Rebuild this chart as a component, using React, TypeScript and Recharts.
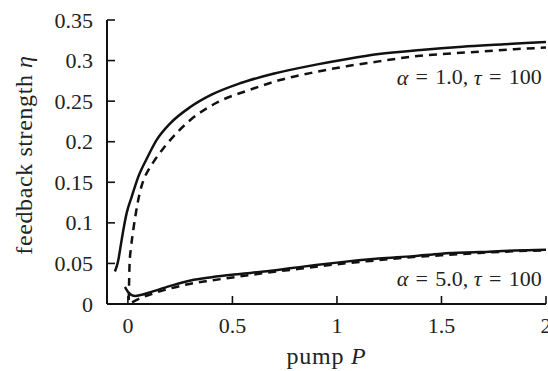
import React from "react";
import {
	LineChart,
	Line,
	XAxis,
	YAxis,
	ReferenceDot,
} from "recharts";

// upper pair, alpha = 1.0
const pumpA1Solid = [-0.062, -0.046, -0.035, -0.022, -0.006, 0.018, 0.05, 0.09, 0.137, 0.2, 0.3, 0.4, 0.536, 0.7, 0.9, 1.05, 1.2, 1.4, 1.6, 1.8, 2.0];
const etaA1Solid = [0.04, 0.054, 0.071, 0.091, 0.112, 0.132, 0.157, 0.179, 0.202, 0.222, 0.243, 0.258, 0.272, 0.284, 0.295, 0.302, 0.308, 0.313, 0.317, 0.32, 0.323];
const pumpA1Dashed = [0.004, 0.006, 0.008, 0.015, 0.025, 0.04, 0.055, 0.075, 0.1, 0.13, 0.17, 0.216, 0.3, 0.424, 0.584, 0.727, 0.9, 1.046, 1.2, 1.365, 1.5, 1.684, 1.85, 2.0];
const etaA1Dashed = [0.005, 0.03, 0.05, 0.07, 0.09, 0.115, 0.135, 0.153, 0.166, 0.178, 0.192, 0.206, 0.227, 0.248, 0.264, 0.276, 0.286, 0.293, 0.299, 0.305, 0.308, 0.311, 0.314, 0.316];

// lower pair, alpha = 5.0
const pumpA5Solid = [-0.014, 0.0, 0.018, 0.035, 0.06, 0.1, 0.2, 0.3, 0.4, 0.536, 0.65, 0.775, 0.9, 1.0, 1.2, 1.365, 1.5, 1.684, 1.85, 2.0];
const etaA5Solid = [0.021, 0.015, 0.011, 0.01, 0.011, 0.014, 0.022, 0.029, 0.033, 0.037, 0.04, 0.044, 0.048, 0.051, 0.056, 0.059, 0.062, 0.064, 0.066, 0.067];
const pumpA5Dashed = [0.02, 0.05, 0.12, 0.2, 0.3, 0.4, 0.536, 0.65, 0.775, 0.9, 1.0, 1.2, 1.365, 1.5, 1.684, 1.85, 2.0];
const etaA5Dashed = [0.002, 0.006, 0.013, 0.019, 0.025, 0.029, 0.034, 0.038, 0.042, 0.046, 0.049, 0.054, 0.058, 0.06, 0.063, 0.065, 0.066];

const xTicks = [0, 0.5, 1, 1.5, 2];
const yTicks = [0, 0.05, 0.1, 0.15, 0.2, 0.25, 0.3, 0.35];

const zip = (xs: number[], ys: number[]) => xs.map((p, i) => ({ p, eta: ys[i] }));

const INK = "#111";
const TEXT = "#222";
const FONT = "'Liberation Serif', serif";
const TICK_LEN = 8;
const SP = "\u2004"; // a bit wider than a normal space, like TeX's relation spacing

const LeftTick = ({ x, y, payload }: any) => (
	<g>
		<line x1={x} x2={x + TICK_LEN} y1={y} y2={y} stroke={INK} strokeWidth={1.6} />
		<text x={x - 14} y={y} textAnchor="end" dominantBaseline="central" fontSize={22} fontFamily={FONT} fill={TEXT}>
			{payload.value}
		</text>
	</g>
);

const RightTick = ({ x, y }: any) => (
	<line x1={x} x2={x - TICK_LEN} y1={y} y2={y} stroke={INK} strokeWidth={1.6} />
);

const BottomTick = ({ x, y, payload }: any) => (
	<g>
		<line x1={x} x2={x} y1={y} y2={y - TICK_LEN} stroke={INK} strokeWidth={1.6} />
		<text x={x} y={y + 21} textAnchor="middle" dominantBaseline="central" fontSize={22} fontFamily={FONT} fill={TEXT}>
			{payload.value}
		</text>
	</g>
);

const TopTick = ({ x, y }: any) => (
	<line x1={x} x2={x} y1={y} y2={y + TICK_LEN} stroke={INK} strokeWidth={1.6} />
);

const CurveLabel = ({ viewBox, alpha }: any) => (
	<text x={viewBox.x} y={viewBox.y} textAnchor="end" dominantBaseline="central" fontSize={22} fontFamily={FONT} fill={TEXT}>
		<tspan fontStyle="italic">α</tspan>
		{`${SP}=${SP}${alpha}, `}
		<tspan fontStyle="italic">τ</tspan>
		{`${SP}=${SP}100`}
	</text>
);

const YTitle = ({ viewBox }: any) => {
	const cx = viewBox.x + 24;
	const cy = viewBox.y + viewBox.height / 2 - 7;
	return (
		<text x={cx} y={cy} transform={`rotate(-90 ${cx} ${cy})`} textAnchor="middle" dominantBaseline="central" fontSize={24} letterSpacing={0.6} fontFamily={FONT} fill={TEXT}>
			feedback strength <tspan fontStyle="italic">η</tspan>
		</text>
	);
};

const XTitle = ({ viewBox }: any) => {
	const cx = viewBox.x + viewBox.width / 2;
	const cy = viewBox.y + 52;
	return (
		<text x={cx} y={cy} textAnchor="middle" dominantBaseline="central" fontSize={24} letterSpacing={0.8} fontFamily={FONT} fill={TEXT}>
			pump <tspan fontStyle="italic">P</tspan>
		</text>
	);
};

export default function App() {
	return (
		<div style={{ position: "absolute", left: 0, top: 0, background: "#fff" }}>
			<LineChart width={548} height={371} margin={{ top: 20, right: 2, left: 0, bottom: 0 }}>
				<XAxis
					dataKey="p"
					type="number"
					domain={[-0.1, 2]}
					allowDataOverflow
					ticks={xTicks}
					interval={0}
					height={67}
					tickSize={0}
					tickMargin={0}
					tickLine={false}
					axisLine={{ stroke: INK, strokeWidth: 2 }}
					tick={<BottomTick />}
					label={<XTitle />}
				/>
				<XAxis
					xAxisId="top"
					orientation="top"
					dataKey="p"
					type="number"
					domain={[-0.1, 2]}
					allowDataOverflow
					ticks={xTicks}
					interval={0}
					height={0}
					tickSize={0}
					tickMargin={0}
					tickLine={false}
					axisLine={{ stroke: INK, strokeWidth: 2 }}
					tick={<TopTick />}
				/>
				<YAxis
					type="number"
					domain={[0, 0.35]}
					allowDataOverflow
					ticks={yTicks}
					interval={0}
					width={107}
					tickSize={0}
					tickMargin={0}
					tickLine={false}
					axisLine={{ stroke: INK, strokeWidth: 2 }}
					tick={<LeftTick />}
					label={<YTitle />}
				/>
				<YAxis
					yAxisId="right"
					orientation="right"
					type="number"
					domain={[0, 0.35]}
					allowDataOverflow
					ticks={yTicks}
					interval={0}
					width={0}
					tickSize={0}
					tickMargin={0}
					tickLine={false}
					axisLine={{ stroke: INK, strokeWidth: 2 }}
					tick={<RightTick />}
				/>
				<Line data={zip(pumpA1Solid, etaA1Solid)} dataKey="eta" type="monotone" stroke={INK} strokeWidth={2.5} dot={false} isAnimationActive={false} />
				<Line data={zip(pumpA1Dashed, etaA1Dashed)} dataKey="eta" type="monotone" stroke={INK} strokeWidth={2.5} strokeDasharray="8 6" dot={false} isAnimationActive={false} />
				<Line data={zip(pumpA5Solid, etaA5Solid)} dataKey="eta" type="monotone" stroke={INK} strokeWidth={2.5} dot={false} isAnimationActive={false} />
				<Line data={zip(pumpA5Dashed, etaA5Dashed)} dataKey="eta" type="monotone" stroke={INK} strokeWidth={2.5} strokeDasharray="8 6" dot={false} isAnimationActive={false} />
				<ReferenceDot x={1.98} y={0.28} r={0} fill="none" stroke="none" label={<CurveLabel alpha="1.0" />} />
				<ReferenceDot x={1.98} y={0.032} r={0} fill="none" stroke="none" label={<CurveLabel alpha="5.0" />} />
			</LineChart>
		</div>
	);
}
